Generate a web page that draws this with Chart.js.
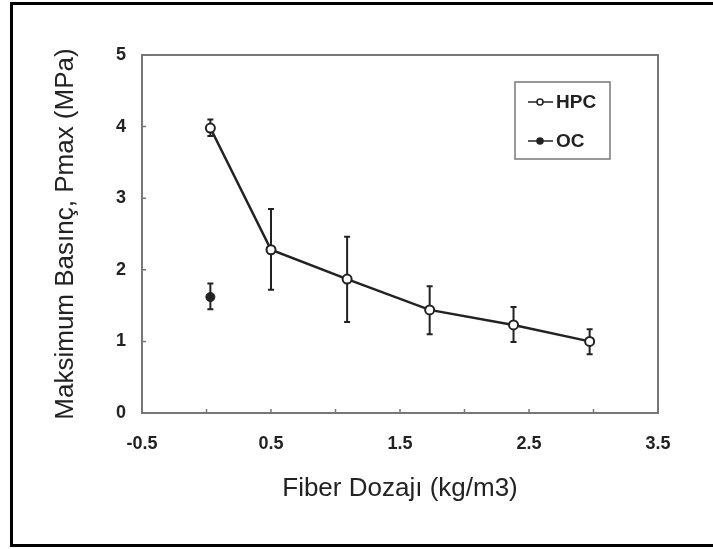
<!DOCTYPE html>
<html>
<head>
<meta charset="utf-8">
<script src="https://cdn.jsdelivr.net/npm/chart.js@4"></script>
<style>
  html, body { margin: 0; padding: 0; background: #fff; }
  #wrap { position: relative; width: 713px; height: 549px; }
</style>
</head>
<body>
<div id="wrap"><canvas id="chart" width="713" height="549"></canvas></div>
<script>
// HPC serisi
const hpcX = [0.03, 0.5, 1.09, 1.73, 2.38, 2.97];
const hpcY = [3.98, 2.28, 1.87, 1.44, 1.23, 1.0];
const hpcHigh = [4.10, 2.85, 2.46, 1.77, 1.48, 1.17];
const hpcLow = [3.87, 1.72, 1.27, 1.10, 0.99, 0.82];

// OC serisi
const ocX = [0.03];
const ocY = [1.62];
const ocHigh = [1.81];
const ocLow = [1.45];

const seriesNames = ["HPC", "OC"];
const xLabels = [-0.5, 0.5, 1.5, 2.5, 3.5];
const xMinorTicks = [-0.5, 0, 0.5, 1, 1.5, 2, 2.5, 3, 3.5];
const yTicks = [0, 1, 2, 3, 4, 5];

const ink = "#222";
const fam = "'Liberation Sans', Arial, sans-serif";

function toPoints(xs, ys) {
  return xs.map((x, i) => ({ x: x, y: ys[i] }));
}

// hata çubukları
const errorBars = {
  id: "errorBars",
  beforeDatasetsDraw(chart) {
    const ctx = chart.ctx;
    const xs = chart.scales.x, ys = chart.scales.y;
    chart.data.datasets.forEach(ds => {
      ds.data.forEach((p, i) => {
        const px = xs.getPixelForValue(p.x);
        const top = ys.getPixelForValue(ds.errHigh[i]);
        const bot = ys.getPixelForValue(ds.errLow[i]);
        ctx.save();
        ctx.strokeStyle = ink;
        ctx.lineWidth = 2;
        ctx.beginPath();
        ctx.moveTo(px, top); ctx.lineTo(px, bot);
        ctx.moveTo(px - 3, top); ctx.lineTo(px + 3, top);
        ctx.moveTo(px - 3, bot); ctx.lineTo(px + 3, bot);
        ctx.stroke();
        ctx.restore();
      });
    });
  }
};

// çerçeve, iç tikler, lejant
const frame = {
  id: "frame",
  beforeDraw(chart) {
    const ctx = chart.ctx;
    ctx.save();
    ctx.fillStyle = "#fff";
    ctx.fillRect(0, 0, chart.width, chart.height);
    ctx.strokeStyle = "#000";
    ctx.lineWidth = 3;
    ctx.beginPath();
    ctx.moveTo(chart.width + 5, 3.5);
    ctx.lineTo(11.5, 3.5);
    ctx.lineTo(11.5, 545.5);
    ctx.lineTo(chart.width + 5, 545.5);
    ctx.stroke();
    ctx.restore();
  },
  afterDraw(chart) {
    const ctx = chart.ctx;
    const a = chart.chartArea;
    const xs = chart.scales.x, ys = chart.scales.y;
    ctx.save();
    ctx.strokeStyle = "#777";
    ctx.lineWidth = 2;
    ctx.strokeRect(a.left, a.top, a.right - a.left, a.bottom - a.top);
    ctx.lineWidth = 1.5;
    ctx.beginPath();
    xMinorTicks.forEach(v => {
      const px = xs.getPixelForValue(v);
      ctx.moveTo(px, a.bottom); ctx.lineTo(px, a.bottom - 4);
    });
    yTicks.forEach(v => {
      const py = ys.getPixelForValue(v);
      ctx.moveTo(a.left, py); ctx.lineTo(a.left + 4, py);
    });
    ctx.stroke();

    // lejant kutusu
    const bx = a.right - 143, by = a.top + 27, bw = 95, bh = 77;
    ctx.strokeStyle = "#777";
    ctx.lineWidth = 1.5;
    ctx.strokeRect(bx, by, bw, bh);
    ctx.font = "bold 19px " + fam;
    ctx.textBaseline = "middle";
    seriesNames.forEach((name, i) => {
      const ly = by + 20 + i * 39;
      ctx.strokeStyle = ink;
      ctx.lineWidth = 1.5;
      ctx.beginPath();
      ctx.moveTo(bx + 13, ly); ctx.lineTo(bx + 38, ly);
      ctx.stroke();
      ctx.beginPath();
      ctx.arc(bx + 25, ly, 3, 0, Math.PI * 2);
      ctx.fillStyle = i === 0 ? "#fff" : ink;
      ctx.fill();
      ctx.stroke();
      ctx.fillStyle = ink;
      ctx.fillText(name, bx + 41, ly + 1);
    });
    ctx.restore();
  }
};

new Chart(document.getElementById("chart"), {
  type: "scatter",
  data: {
    datasets: [
      {
        label: seriesNames[0],
        data: toPoints(hpcX, hpcY),
        errHigh: hpcHigh,
        errLow: hpcLow,
        showLine: true,
        borderColor: ink,
        borderWidth: 2.5,
        pointRadius: 4.5,
        pointBorderWidth: 2,
        pointBackgroundColor: "#fff",
        pointBorderColor: ink
      },
      {
        label: seriesNames[1],
        data: toPoints(ocX, ocY),
        errHigh: ocHigh,
        errLow: ocLow,
        showLine: false,
        pointRadius: 4.5,
        pointBackgroundColor: ink,
        pointBorderColor: ink
      }
    ]
  },
  options: {
    responsive: false,
    animation: false,
    layout: { padding: { top: 55, right: 55, bottom: 0, left: 0 } },
    plugins: {
      legend: { display: false },
      tooltip: { enabled: false }
    },
    scales: {
      x: {
        type: "linear",
        min: -0.5,
        max: 3.5,
        afterBuildTicks: s => { s.ticks = xLabels.map(v => ({ value: v })); },
        afterFit: s => { s.height = 136; },
        grid: { display: false, drawTicks: false },
        border: { display: false },
        ticks: {
          padding: 20,
          color: ink,
          font: { family: fam, size: 18, weight: "bold" },
          callback: v => String(v)
        },
        title: {
          display: true,
          text: "Fiber Dozajı (kg/m3)",
          color: ink,
          font: { family: fam, size: 26 },
          padding: { top: 0, bottom: 45 }
        }
      },
      y: {
        type: "linear",
        min: 0,
        max: 5,
        afterBuildTicks: s => { s.ticks = yTicks.map(v => ({ value: v })); },
        afterFit: s => { s.width = 142; },
        grid: { display: false, drawTicks: false },
        border: { display: false },
        ticks: {
          padding: 16,
          color: ink,
          font: { family: fam, size: 18, weight: "bold" }
        },
        title: {
          display: true,
          text: "Maksimum Basınç, Pmax (MPa)",
          color: ink,
          font: { family: fam, size: 26 },
          padding: { top: 50, bottom: 0 }
        }
      }
    }
  },
  plugins: [frame, errorBars]
});
</script>
</body>
</html>
